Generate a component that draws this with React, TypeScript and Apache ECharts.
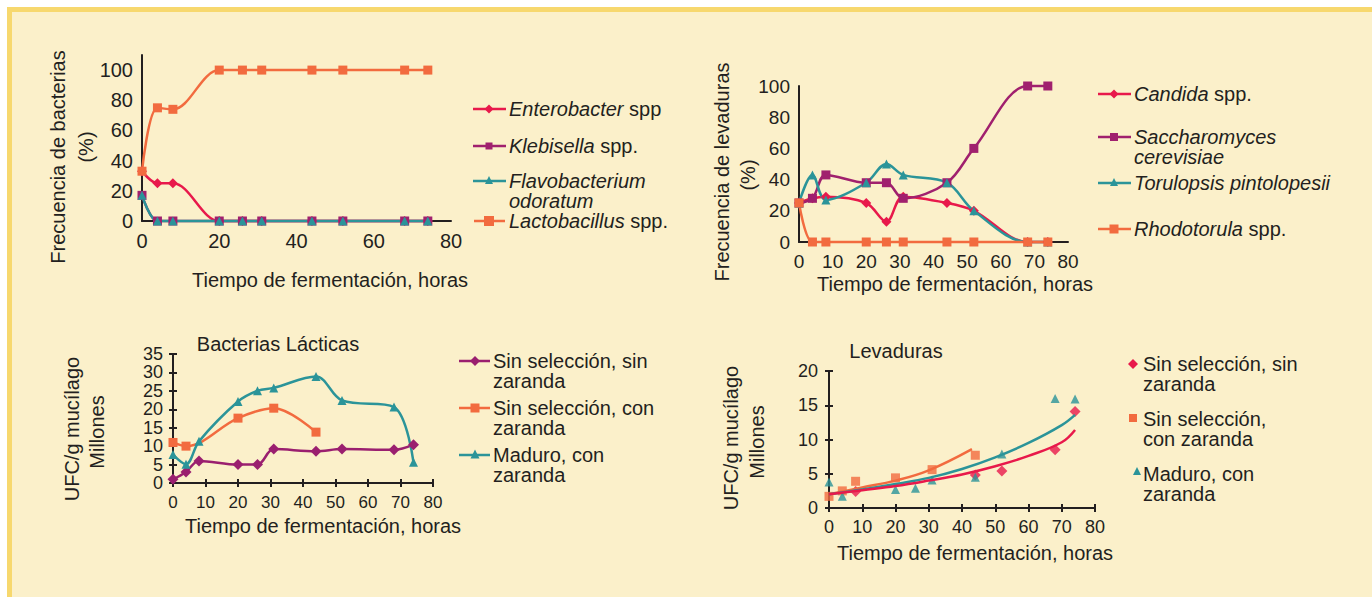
import React, { useEffect, useRef } from "react";
import * as echarts from "echarts";

// ---------- DATA ----------
// Top-left: Frecuencia de bacterias (%)
const hoursBact = [0, 4, 8, 20, 26, 31, 44, 52, 68, 74];
const enterobacter = [33, 25, 25, 0, 0, 0, 0, 0, 0, 0];
const klebisella = [17, 0, 0, 0, 0, 0, 0, 0, 0, 0];
const flavobacterium = [17, 0, 0, 0, 0, 0, 0, 0, 0, 0];
const lactobacillus = [33, 75, 74, 100, 100, 100, 100, 100, 100, 100];

// Top-right: Frecuencia de levaduras (%)
const hoursLev = [0, 4, 8, 20, 26, 31, 44, 52, 68, 74];
const candida = [25, 28, 29, 25, 13, 29, 25, 20, 0, 0];
const saccharomyces = [25, 28, 43, 38, 38, 28, 38, 60, 100, 100];
const torulopsis = [25, 43, 27, 38, 50, 43, 38, 20, 0, 0];
const rhodotorula = [25, 0, 0, 0, 0, 0, 0, 0, 0, 0];

// Bottom-left: Bacterias Lácticas (UFC/g mucílago, millones)
const hoursLacSinSin = [0, 4, 8, 20, 26, 31, 44, 52, 68, 74];
const lacSinSin = [1, 3, 6, 5, 5, 9.2, 8.6, 9.2, 9, 10.4];
const hoursLacSinCon = [0, 4, 20, 31, 44];
const lacSinCon = [11, 10, 17.6, 20.3, 13.8];
const hoursLacMaduro = [0, 4, 8, 20, 26, 31, 44, 52, 68, 74];
const lacMaduro = [7.7, 5.1, 11.3, 22.1, 25, 25.8, 28.9, 22.4, 20.6, 5.6];

// Bottom-right: Levaduras (UFC/g mucílago, millones)
const hoursLevSinSin = [8, 44, 52, 68, 74];
const levSinSin = [2.4, 4.8, 5.4, 8.5, 14.1];
const hoursLevSinCon = [0, 4, 8, 20, 31, 44];
const levSinCon = [1.7, 2.5, 3.9, 4.4, 5.6, 7.7];
const hoursLevMaduro = [0, 4, 20, 26, 31, 44, 52, 68, 74];
const levMaduro = [3.8, 1.7, 2.7, 2.9, 4.1, 4.5, 7.9, 16, 15.9];
// trend lines
const trendHours = [0, 10, 20, 30, 40, 50, 60, 70, 74];
const trendSinSin = [2.0, 2.6, 3.2, 4.0, 4.9, 6.1, 7.6, 9.6, 11.4];
const trendMaduro = [2.0, 2.7, 3.5, 4.4, 5.7, 7.4, 9.5, 12.1, 13.6];
const trendHoursSinCon = [0, 10, 20, 30, 43];
const trendSinCon = [2.0, 3.0, 4.0, 5.5, 8.6];

// ---------- STYLE ----------
const W = 1372;
const H = 597;
const FONT = '"Liberation Sans", Arial, sans-serif';
const INK = "#231f20";
const RED = "#e8194b";
const PURPLE = "#a0206e";
const PURPLE2 = "#9a1f6f";
const TEAL = "#2b9499";
const ORANGE = "#f26b3f";
const CREAM = "#fbf0ca";
const YELLOW = "#f7d86e";

const pairs = (xs: number[], ys: number[]) => xs.map((x, i) => [x, ys[i]]);

const axisLine = { show: true, onZero: false, lineStyle: { color: INK, width: 2 } };
const lbl = (fontSize: number, margin: number, extra: any = {}) => ({
  fontSize,
  margin,
  color: INK,
  fontFamily: FONT,
  ...extra,
});

function xAx(grid: number, interval: number, fs: number, margin: number, ticks: boolean) {
  return {
    gridIndex: grid,
    type: "value",
    min: 0,
    max: 80,
    interval,
    position: "bottom",
    axisLine,
    axisTick: ticks ? { show: true, length: 4, lineStyle: { color: INK, width: 2 } } : { show: false },
    splitLine: { show: false },
    axisLabel: lbl(fs, margin),
  };
}
function yAx(grid: number, max: number, interval: number, fs: number, margin: number, ticks: boolean, extra: any = {}) {
  return {
    gridIndex: grid,
    type: "value",
    min: 0,
    max,
    interval,
    position: "left",
    axisLine,
    axisTick: ticks ? { show: true, length: 4, lineStyle: { color: INK, width: 2 } } : { show: false },
    splitLine: { show: false },
    axisLabel: lbl(fs, margin, extra),
  };
}
function innerX(grid: number) {
  return {
    gridIndex: grid, type: "value", min: 0, max: 80, interval: 10, position: "bottom",
    axisLine: { show: false }, axisLabel: { show: false }, splitLine: { show: false },
    axisTick: { show: true, inside: true, length: 4, lineStyle: { color: INK, width: 2 } },
  };
}
function innerY(grid: number, max: number, interval: number) {
  return {
    gridIndex: grid, type: "value", min: 0, max, interval, position: "left",
    axisLine: { show: false }, axisLabel: { show: false }, splitLine: { show: false },
    axisTick: { show: true, inside: true, length: 4, lineStyle: { color: INK, width: 2 } },
  };
}

function lineSeries(name: string, ax: number, data: any[], color: string, symbol: string, size: number) {
  return {
    name,
    type: "line",
    xAxisIndex: ax,
    yAxisIndex: ax,
    data,
    smooth: 0.35,
    clip: false,
    symbol,
    symbolSize: size,
    showAllSymbol: true,
    lineStyle: { color, width: 2.5 },
    itemStyle: { color },
  };
}
function scatterSeries(name: string, data: any[], color: string, symbol: string, size: number) {
  return {
    name, type: "scatter", xAxisIndex: 3, yAxisIndex: 3, data, symbol, symbolSize: size,
    clip: false, itemStyle: { color },
  };
}
function trendSeries(name: string, data: any[], color: string) {
  return {
    name, type: "line", xAxisIndex: 3, yAxisIndex: 3, data, smooth: 0.4, symbol: "none",
    clip: false, lineStyle: { color, width: 2.5 },
  };
}

// ---------- GRAPHIC HELPERS ----------
function marker(shape: string, cx: number, cy: number, s: number, color: string) {
  if (shape === "rect") {
    return { type: "rect", shape: { x: cx - s / 2, y: cy - s / 2, width: s, height: s }, style: { fill: color } };
  }
  if (shape === "diamond") {
    return {
      type: "polygon",
      shape: { points: [[cx, cy - s / 2], [cx + s / 2, cy], [cx, cy + s / 2], [cx - s / 2, cy]] },
      style: { fill: color },
    };
  }
  return {
    type: "polygon",
    shape: { points: [[cx, cy - s / 2], [cx + s / 2, cy + s / 2], [cx - s / 2, cy + s / 2]] },
    style: { fill: color },
  };
}
function legendLine(x1: number, x2: number, y: number, color: string) {
  return { type: "line", shape: { x1, y1: y, x2, y2: y }, style: { stroke: color, lineWidth: 2.5 } };
}
function richText(text: string, x: number, y: number, lh: number) {
  return {
    type: "text",
    x,
    y: y - lh / 2,
    style: {
      text,
      fontSize: 20,
      fontFamily: FONT,
      fill: INK,
      lineHeight: lh,
      verticalAlign: "top",
      align: "left",
      rich: {
        i: { fontStyle: "italic", fontSize: 20, fontFamily: FONT, fill: INK, lineHeight: lh },
        n: { fontSize: 20, fontFamily: FONT, fill: INK, lineHeight: lh },
      },
    },
  };
}
function plainText(text: string, x: number, y: number, rot = 0, fs = 20) {
  return {
    type: "text",
    x,
    y,
    rotation: rot,
    style: { text, fontSize: fs, fontFamily: FONT, fill: INK, align: "center", verticalAlign: "middle" },
  };
}

const graphic: any[] = [
  { type: "rect", shape: { x: 0, y: 0, width: W, height: 7 }, style: { fill: "#ffffff" } },
  { type: "rect", shape: { x: 0, y: 0, width: 7, height: H }, style: { fill: "#ffffff" } },
  { type: "rect", shape: { x: 7, y: 7, width: W - 7, height: 5 }, style: { fill: YELLOW } },
  { type: "rect", shape: { x: 7, y: 7, width: 5, height: H - 7 }, style: { fill: YELLOW } },

  // axis names & titles
  plainText("Frecuencia de bacterias", 58, 157, Math.PI / 2),
  plainText("(%)", 86, 147, Math.PI / 2),
  plainText("Tiempo de fermentación, horas", 330, 280),
  plainText("Frecuencia de levaduras", 722, 172, Math.PI / 2),
  plainText("(%)", 748, 175, Math.PI / 2),
  plainText("Tiempo de fermentación, horas", 955, 284),
  plainText("Bacterias Lácticas", 278, 344),
  plainText("UFC/g mucílago", 72, 429, Math.PI / 2),
  plainText("Millones", 97, 432, Math.PI / 2),
  plainText("Tiempo de fermentación, horas", 323, 526),
  plainText("Levaduras", 896, 351),
  plainText("UFC/g mucílago", 731, 438, Math.PI / 2),
  plainText("Millones", 757, 442, Math.PI / 2),
  plainText("Tiempo de fermentación, horas", 975, 553),

  // legend chart 1
  legendLine(473, 506, 109, RED), marker("diamond", 489, 109, 9, RED),
  richText("{i|Enterobacter} spp", 509, 109, 17),
  legendLine(473, 506, 181, TEAL), marker("triangle", 489, 180, 8, TEAL),
  richText("{i|Flavobacterium}\n{i|odoratum}", 509, 181, 20),
  legendLine(473, 506, 146, PURPLE), marker("rect", 489, 146, 7, PURPLE),
  richText("{i|Klebisella} spp.", 509, 146, 17),
  legendLine(474, 505, 221, ORANGE), marker("rect", 489, 221, 10, ORANGE),
  richText("{i|Lactobacillus} spp.", 509, 221, 17),

  // legend chart 2
  legendLine(1098, 1131, 94, RED), marker("diamond", 1114, 94, 9, RED),
  richText("{i|Candida} spp.", 1134, 94, 17),
  legendLine(1098, 1131, 137, PURPLE), marker("rect", 1114, 137, 8, PURPLE),
  richText("{i|Saccharomyces}\n{i|cerevisiae}", 1134, 137, 20),
  legendLine(1098, 1131, 183, TEAL), marker("triangle", 1114, 182, 8, TEAL),
  richText("{i|Torulopsis pintolopesii}", 1134, 183, 17),
  legendLine(1098, 1131, 229, ORANGE), marker("rect", 1114, 229, 9, ORANGE),
  richText("{i|Rhodotorula} spp.", 1134, 229, 17),

  // legend chart 3
  legendLine(459, 490, 361, PURPLE2), marker("diamond", 475, 361, 10, PURPLE2),
  richText("Sin selección, sin\nzaranda", 493, 361, 20),
  legendLine(459, 490, 408, ORANGE), marker("rect", 475, 408, 9, ORANGE),
  richText("Sin selección, con\nzaranda", 493, 408, 20),
  legendLine(459, 490, 455, TEAL), marker("triangle", 475, 454, 9, TEAL),
  richText("Maduro, con\nzaranda", 493, 455, 20),

  // legend chart 4
  marker("diamond", 1133, 364, 10, RED),
  richText("Sin selección, sin\nzaranda", 1143, 364, 20),
  marker("rect", 1133, 418, 8, ORANGE),
  richText("Sin selección,\ncon zaranda", 1143, 419, 20),
  marker("triangle", 1137, 471, 8, TEAL),
  richText("Maduro, con\nzaranda", 1143, 474, 20),
];

const option: any = {
  animation: false,
  backgroundColor: CREAM,
  textStyle: { fontFamily: FONT },
  grid: [
    { left: 142, top: 55, width: 309, height: 166 },
    { left: 799, top: 86, width: 269, height: 156 },
    { left: 173, top: 354, width: 260, height: 129 },
    { left: 829, top: 371, width: 266, height: 137 },
  ],
  xAxis: [
    xAx(0, 20, 20, 10, false),
    xAx(1, 10, 19, 10, false),
    xAx(2, 10, 17, 11, true),
    xAx(3, 10, 18, 10, true),
    innerX(2),
    innerX(3),
  ],
  yAxis: [
    yAx(0, 110, 20, 20, 9, false, { formatter: (v: number) => (v <= 100 ? String(v) : "") }),
    yAx(1, 100, 20, 19, 9, false),
    yAx(2, 35, 5, 18, 10, true),
    yAx(3, 20, 5, 18, 11, true),
    innerY(2, 35, 5),
    innerY(3, 20, 5),
  ],
  series: [
    lineSeries("Enterobacter spp", 0, pairs(hoursBact, enterobacter), RED, "diamond", 10),
    lineSeries("Klebisella spp.", 0, pairs(hoursBact, klebisella), PURPLE, "rect", 9),
    lineSeries("Flavobacterium odoratum", 0, pairs(hoursBact, flavobacterium), TEAL, "triangle", 9),
    lineSeries("Lactobacillus spp.", 0, pairs(hoursBact, lactobacillus), ORANGE, "rect", 9),

    lineSeries("Candida spp.", 1, pairs(hoursLev, candida), RED, "diamond", 10),
    lineSeries("Saccharomyces cerevisiae", 1, pairs(hoursLev, saccharomyces), PURPLE, "rect", 9),
    lineSeries("Torulopsis pintolopesii", 1, pairs(hoursLev, torulopsis), TEAL, "triangle", 9),
    lineSeries("Rhodotorula spp.", 1, pairs(hoursLev, rhodotorula), ORANGE, "rect", 9),

    lineSeries("Sin selección, sin zaranda", 2, pairs(hoursLacSinSin, lacSinSin), PURPLE2, "diamond", 11),
    lineSeries("Sin selección, con zaranda", 2, pairs(hoursLacSinCon, lacSinCon), ORANGE, "rect", 9),
    lineSeries("Maduro, con zaranda", 2, pairs(hoursLacMaduro, lacMaduro), TEAL, "triangle", 9),

    trendSeries("Tendencia sin selección, con zaranda", pairs(trendHoursSinCon, trendSinCon), ORANGE),
    trendSeries("Tendencia maduro, con zaranda", pairs(trendHours, trendMaduro), TEAL),
    trendSeries("Tendencia sin selección, sin zaranda", pairs(trendHours, trendSinSin), RED),
    scatterSeries("Levaduras sin selección, sin zaranda", pairs(hoursLevSinSin, levSinSin), RED, "diamond", 11),
    scatterSeries("Levaduras sin selección, con zaranda", pairs(hoursLevSinCon, levSinCon), ORANGE, "rect", 9),
    scatterSeries("Levaduras maduro, con zaranda", pairs(hoursLevMaduro, levMaduro), TEAL, "triangle", 9),
  ],
  graphic,
};

export default function App() {
  const ref = useRef<HTMLDivElement>(null);
  useEffect(() => {
    const chart = echarts.init(ref.current as HTMLDivElement, null, { renderer: "svg", width: W, height: H });
    chart.setOption(option);
    return () => chart.dispose();
  }, []);
  return <div ref={ref} style={{ position: "fixed", left: 0, top: 0, width: W, height: H }} />;
}
